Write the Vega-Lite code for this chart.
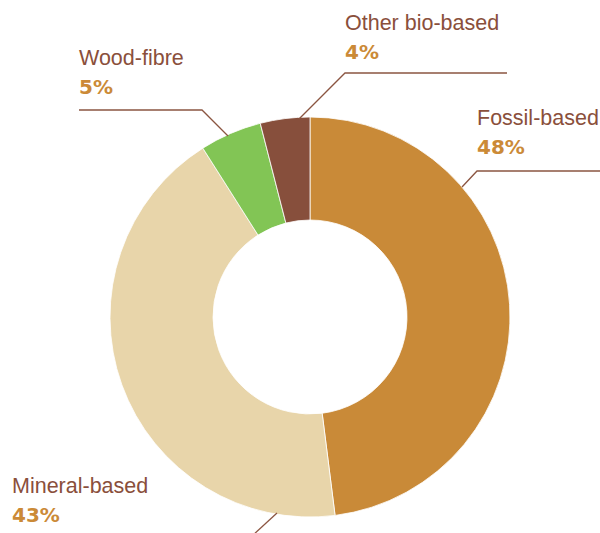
{
  "$schema": "https://vega.github.io/schema/vega-lite/v6.json",
  "width": 620,
  "height": 634,
  "autosize": {"type": "none"},
  "padding": 0,
  "background": "white",
  "config": {"view": {"stroke": null}},
  "datasets": {
    "slices": [
      {"name": "Fossil-based", "value": 0.48, "rank": 1, "lx": 477, "ly": 125},
      {"name": "Mineral-based", "value": 0.43, "rank": 2, "lx": 12, "ly": 493},
      {"name": "Wood-fibre", "value": 0.05, "rank": 3, "lx": 79, "ly": 65},
      {"name": "Other bio-based", "value": 0.04, "rank": 4, "lx": 345, "ly": 30}
    ],
    "leaders": [
      {"name": "Other bio-based", "seq": 1, "x": 299, "y": 119},
      {"name": "Other bio-based", "seq": 2, "x": 345, "y": 73},
      {"name": "Other bio-based", "seq": 3, "x": 507, "y": 73},
      {"name": "Wood-fibre", "seq": 1, "x": 228, "y": 136},
      {"name": "Wood-fibre", "seq": 2, "x": 202, "y": 110},
      {"name": "Wood-fibre", "seq": 3, "x": 79, "y": 110},
      {"name": "Fossil-based", "seq": 1, "x": 462, "y": 187},
      {"name": "Fossil-based", "seq": 2, "x": 477, "y": 171},
      {"name": "Fossil-based", "seq": 3, "x": 600, "y": 171},
      {"name": "Mineral-based", "seq": 1, "x": 277, "y": 513},
      {"name": "Mineral-based", "seq": 2, "x": 251, "y": 537}
    ]
  },
  "layer": [
    {
      "data": {"name": "slices"},
      "mark": {"type": "arc", "outerRadius": 200, "innerRadius": 97, "stroke": "#ffffff", "strokeWidth": 0.8},
      "encoding": {
        "theta": {"field": "value", "type": "quantitative", "stack": true},
        "order": {"field": "rank", "type": "quantitative"},
        "color": {
          "field": "name",
          "type": "nominal",
          "legend": null,
          "scale": {
            "domain": ["Fossil-based", "Mineral-based", "Wood-fibre", "Other bio-based"],
            "range": ["#C98A38", "#E8D5AA", "#82C555", "#874F3C"]
          }
        }
      }
    },
    {
      "data": {"name": "leaders"},
      "mark": {"type": "line", "color": "#8B5541", "strokeWidth": 1.3, "interpolate": "linear"},
      "encoding": {
        "x": {"field": "x", "type": "quantitative", "scale": {"domain": [0, 620], "zero": false, "nice": false}, "axis": null},
        "y": {"field": "y", "type": "quantitative", "scale": {"domain": [0, 634], "reverse": true, "zero": false, "nice": false}, "axis": null},
        "detail": {"field": "name", "type": "nominal"},
        "order": {"field": "seq", "type": "quantitative"}
      }
    },
    {
      "data": {"name": "slices"},
      "mark": {"type": "text", "align": "left", "baseline": "alphabetic", "font": "Liberation Sans", "fontSize": 21.5, "color": "#8A4F3B"},
      "encoding": {
        "x": {"field": "lx", "type": "quantitative", "scale": {"domain": [0, 620], "zero": false, "nice": false}, "axis": null},
        "y": {"field": "ly", "type": "quantitative", "scale": {"domain": [0, 634], "reverse": true, "zero": false, "nice": false}, "axis": null},
        "text": {"field": "name", "type": "nominal"}
      }
    },
    {
      "data": {"name": "slices"},
      "mark": {"type": "text", "align": "left", "baseline": "alphabetic", "font": "DejaVu Sans", "fontWeight": "bold", "fontSize": 20, "color": "#CB8A37", "dy": 29},
      "encoding": {
        "x": {"field": "lx", "type": "quantitative", "scale": {"domain": [0, 620], "zero": false, "nice": false}, "axis": null},
        "y": {"field": "ly", "type": "quantitative", "scale": {"domain": [0, 634], "reverse": true, "zero": false, "nice": false}, "axis": null},
        "text": {"field": "value", "type": "quantitative", "format": ".0%"}
      }
    }
  ]
}
